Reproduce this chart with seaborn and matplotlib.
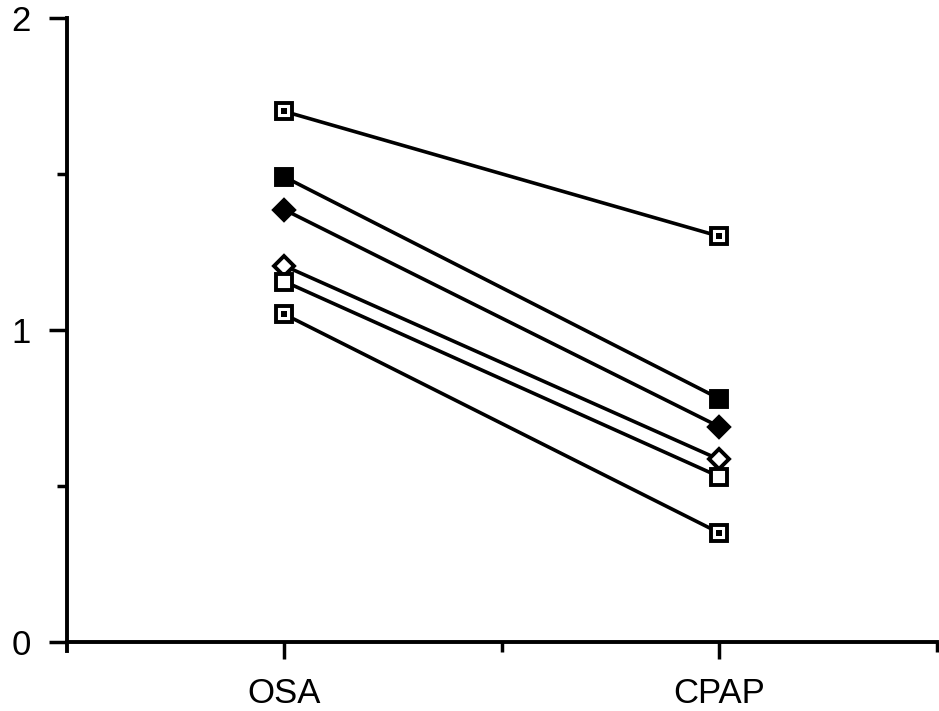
import matplotlib
matplotlib.use("Agg")
import matplotlib.pyplot as plt
import seaborn as sns
import pandas as pd
from matplotlib.ticker import FixedLocator

sns.set_theme(style="ticks")
plt.rcParams["font.family"] = ["Liberation Sans", "DejaVu Sans"]

# Conditions and their positions on the x axis
conditions = ["OSA", "CPAP"]
positions = [1, 3]

# One row per subject: value under OSA, value under CPAP
subjects = ["S1", "S2", "S3", "S4", "S5", "S6"]
osa_values = [1.70, 1.49, 1.385, 1.205, 1.155, 1.05]
cpap_values = [1.30, 0.78, 0.69, 0.585, 0.53, 0.35]
marker_shapes = ["s", "s", "D", "D", "s", "s"]
marker_filled = [False, True, True, False, False, False]
marker_dotted = [True, False, False, False, False, True]

df = pd.DataFrame({
    "subject": [s for s in subjects for _ in positions],
    "x": positions * len(subjects),
    "value": [v for pair in zip(osa_values, cpap_values) for v in pair],
})

fig = plt.figure(figsize=(9.39, 7.11), dpi=100)
ax = fig.add_axes([0.0714, 0.097, 0.926, 0.878])

for subj, shape, filled, dotted in zip(subjects, marker_shapes, marker_filled, marker_dotted):
    sub = df[df["subject"] == subj]
    sns.lineplot(
        data=sub, x="x", y="value", ax=ax, color="black", linewidth=2.6,
        marker=shape, markersize=11.5 if shape == "s" else 10.5,
        markerfacecolor="black" if filled else "white",
        markeredgecolor="black", markeredgewidth=2.8, zorder=3,
    )
    if dotted:
        sns.scatterplot(data=sub, x="x", y="value", ax=ax, marker="s", s=16,
                        color="black", edgecolor="black", linewidth=0, zorder=4)

ax.set_xlim(0, 4)
ax.set_ylim(0, 2)
ax.set_xlabel("")
ax.set_ylabel("")

ax.xaxis.set_major_locator(FixedLocator(positions))
ax.set_xticklabels(conditions)
ax.xaxis.set_minor_locator(FixedLocator([2, 4]))
ax.yaxis.set_major_locator(FixedLocator([0, 1, 2]))
ax.set_yticklabels(["0", "1", "2"])
ax.yaxis.set_minor_locator(FixedLocator([0.5, 1.5]))

ax.tick_params(axis="both", which="major", direction="out", length=13, width=2.5,
               color="black", labelsize=25, labelcolor="black")
ax.tick_params(axis="x", which="major", length=12, pad=13)
ax.tick_params(axis="y", which="major", pad=13)
ax.tick_params(axis="both", which="minor", direction="out", length=7, width=2.5, color="black")

for side in ["top", "right"]:
    ax.spines[side].set_visible(False)
for side in ["left", "bottom"]:
    ax.spines[side].set_linewidth(2.8)
    ax.spines[side].set_color("black")
ax.spines["left"].set_bounds(-0.03, 2)
ax.set_facecolor("white")
fig.patch.set_facecolor("white")
for line in ax.get_lines():
    line.set_clip_on(False)

fig.savefig("out.png", dpi=100, facecolor="white")
